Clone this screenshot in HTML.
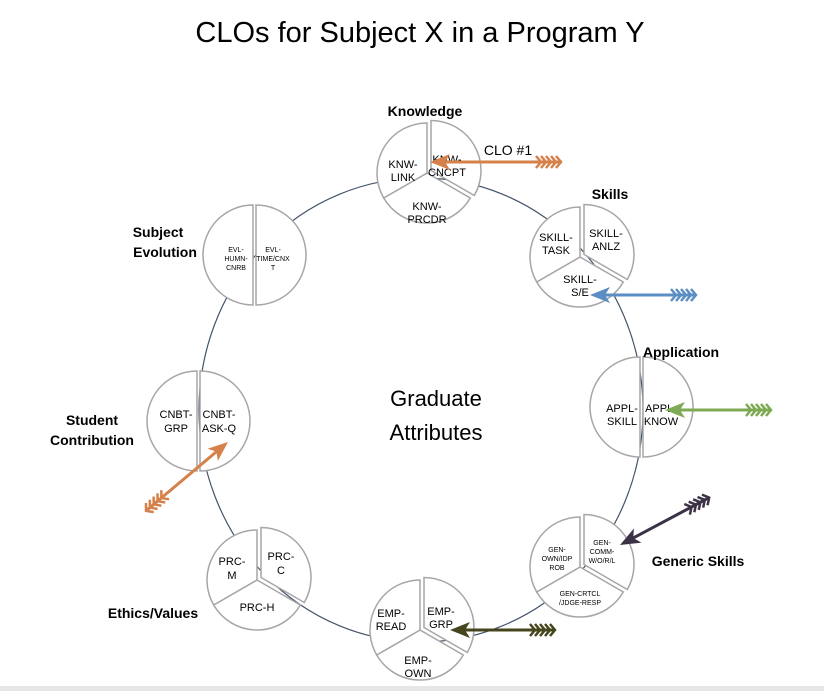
<!DOCTYPE html>
<html><head><meta charset="utf-8"><style>
html,body{margin:0;padding:0;background:#fff;}
svg{display:block;font-family:"Liberation Sans",sans-serif;}
</style></head><body>
<svg width="824" height="691" viewBox="0 0 824 691" xmlns="http://www.w3.org/2000/svg">
<defs>
<g id="p3">
<path d="M0,0 L43.3,25 A50,50 0 0 1 -43.3,25 Z" fill="#fff" stroke="#a6a6a6" stroke-width="1.5"/>
<path d="M0,0 L-43.3,25 A50,50 0 0 1 0,-50 Z" fill="#fff" stroke="#a6a6a6" stroke-width="1.5"/>
<path transform="translate(4,-2.5)" d="M0,0 L0,-50 A50,50 0 0 1 43.3,25 Z" fill="#fff" stroke="#a6a6a6" stroke-width="1.5"/>
</g>
<g id="p2">
<path d="M0,-50 A50,50 0 0 0 0,50 Z" fill="#fff" stroke="#a6a6a6" stroke-width="1.5"/>
<path transform="translate(3,0)" d="M0,-50 A50,50 0 0 1 0,50 Z" fill="#fff" stroke="#a6a6a6" stroke-width="1.5"/>
</g>
<g id="fl">
<polyline points="-22,-6 -17,0 -22,6" fill="none" stroke-width="2.5"/>
<polyline points="-17,-6 -12,0 -17,6" fill="none" stroke-width="2.5"/>
<polyline points="-12,-6 -7,0 -12,6" fill="none" stroke-width="2.5"/>
<polyline points="-7,-6 -2,0 -7,6" fill="none" stroke-width="2.5"/>
<polyline points="-2,-6 3,0 -2,6" fill="none" stroke-width="2.5"/>
</g>
</defs>

<text x="420" y="42" font-size="29" text-anchor="middle" fill="#000">CLOs for Subject X in a Program Y</text>

<ellipse cx="421" cy="410" rx="222" ry="232" fill="none" stroke="#44546a" stroke-width="1.2"/>

<text x="436" y="406" font-size="22" text-anchor="middle">Graduate</text>
<text x="436" y="440" font-size="22" text-anchor="middle">Attributes</text>

<!-- pies -->
<use href="#p3" x="427" y="173"/>
<use href="#p3" x="580" y="257"/>
<use href="#p2" x="640" y="407"/>
<use href="#p3" x="580" y="567"/>
<use href="#p3" x="420" y="630"/>
<use href="#p3" x="257" y="580"/>
<use href="#p2" x="197" y="421"/>
<use href="#p2" x="253" y="255"/>

<g font-size="11" text-anchor="middle" fill="#000">
<text x="403" y="168">KNW-</text><text x="403" y="181">LINK</text>
<text x="447" y="163">KNW-</text><text x="447" y="176">CNCPT</text>
<text x="427" y="210">KNW-</text><text x="427" y="223">PRCDR</text>
<text x="556" y="241">SKILL-</text><text x="556" y="254">TASK</text>
<text x="606" y="237">SKILL-</text><text x="606" y="250">ANLZ</text>
<text x="580" y="283">SKILL-</text><text x="580" y="296">S/E</text>
<text x="622" y="412">APPL-</text><text x="622" y="425">SKILL</text>
<text x="661" y="412">APPL-</text><text x="661" y="425">KNOW</text>
<text x="391" y="617">EMP-</text><text x="391" y="630">READ</text>
<text x="441" y="615">EMP-</text><text x="441" y="628">GRP</text>
<text x="418" y="664">EMP-</text><text x="418" y="677">OWN</text>
<text x="232" y="565">PRC-</text><text x="232" y="579">M</text>
<text x="281" y="560">PRC-</text><text x="281" y="574">C</text>
<text x="257" y="611">PRC-H</text>
<text x="176" y="418">CNBT-</text><text x="176" y="432">GRP</text>
<text x="219" y="418">CNBT-</text><text x="219" y="432">ASK-Q</text>
</g>
<g font-size="7" text-anchor="middle" fill="#000">
<text x="236" y="252">EVL-</text><text x="236" y="261">HUMN-</text><text x="236" y="270">CNRB</text>
<text x="273" y="252">EVL-</text><text x="273" y="261">TIME/CNX</text><text x="273" y="270">T</text>
<text x="557" y="552">GEN-</text><text x="557" y="561">OWN/IDP</text><text x="557" y="570">ROB</text>
<text x="602" y="545">GEN-</text><text x="602" y="554">COMM-</text><text x="602" y="563">W/O/R/L</text>
<text x="580" y="596">GEN-CRTCL</text><text x="580" y="605">/JDGE-RESP</text>
</g>

<g font-size="14" font-weight="bold" fill="#000">
<text x="425" y="116" text-anchor="middle">Knowledge</text>
<text x="610" y="199" text-anchor="middle">Skills</text>
<text x="681" y="357" text-anchor="middle">Application</text>
<text x="698" y="566" text-anchor="middle">Generic Skills</text>
<text x="153" y="618" text-anchor="middle">Ethics/Values</text>
<text x="92" y="425" text-anchor="middle">Student</text>
<text x="92" y="445" text-anchor="middle">Contribution</text>
<text x="158" y="237" text-anchor="middle">Subject</text>
<text x="165" y="257" text-anchor="middle">Evolution</text>
</g>
<text x="508" y="155" font-size="14" text-anchor="middle">CLO #1</text>

<!-- arrows: local tip at 0,0 pointing left, tail at +L -->
<g transform="translate(430,162)" stroke="#d6804a" fill="#d6804a">
<line x1="14" y1="0" x2="132" y2="0" stroke-width="3"/>
<polygon points="0,0 20,-8 15,0 20,8" stroke="none"/>
<use href="#fl" x="128"/>
</g>
<g transform="translate(590,295)" stroke="#5b8ec4" fill="#5b8ec4">
<line x1="14" y1="0" x2="105" y2="0" stroke-width="3"/>
<polygon points="0,0 20,-8 15,0 20,8" stroke="none"/>
<use href="#fl" x="103"/>
</g>
<g transform="translate(665,410)" stroke="#7daa52" fill="#7daa52">
<line x1="14" y1="0" x2="105" y2="0" stroke-width="3"/>
<polygon points="0,0 20,-8 15,0 20,8" stroke="none"/>
<use href="#fl" x="103"/>
</g>
<g transform="translate(620,545) rotate(-28)" stroke="#3c3246" fill="#3c3246">
<line x1="14" y1="0" x2="100" y2="0" stroke-width="3"/>
<polygon points="0,0 20,-8 15,0 20,8" stroke="none"/>
<use href="#fl" x="98"/>
</g>
<g transform="translate(450,630)" stroke="#45451e" fill="#45451e">
<line x1="14" y1="0" x2="104" y2="0" stroke-width="3"/>
<polygon points="0,0 20,-8 15,0 20,8" stroke="none"/>
<use href="#fl" x="102"/>
</g>
<g transform="translate(228,442) rotate(140)" stroke="#d6804a" fill="#d6804a">
<line x1="14" y1="0" x2="106" y2="0" stroke-width="3"/>
<polygon points="0,0 20,-8 15,0 20,8" stroke="none"/>
<use href="#fl" x="104"/>
</g>

<rect x="0" y="686" width="824" height="5" fill="#e6e6e6"/>
</svg>
</body></html>
